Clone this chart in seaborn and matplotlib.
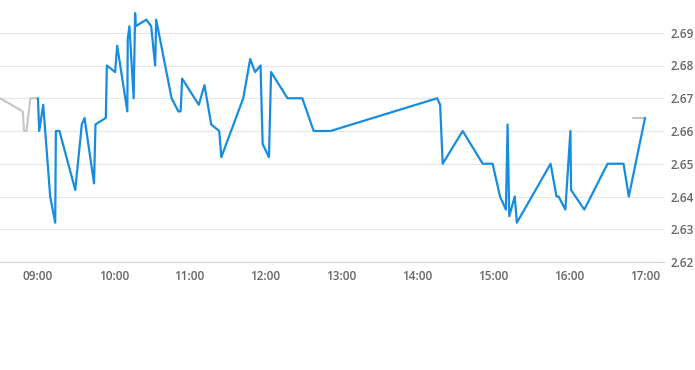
import matplotlib
matplotlib.use("Agg")
import matplotlib.pyplot as plt
import pandas as pd
import seaborn as sns

# ---- data ----
pre_times = ["08:30:00", "08:48:00", "08:49:00", "08:51:00", "08:54:00", "09:00:00"]
pre_values = [2.670, 2.666, 2.660, 2.660, 2.670, 2.670]

post_times = ["16:50:20", "17:00:00"]
post_values = [2.664, 2.664]

main_times = [
    "09:00:00", "09:01:00", "09:04:10", "09:09:40", "09:13:40", "09:14:10", "09:17:00",
    "09:29:30", "09:34:40", "09:36:50", "09:44:20", "09:45:30", "09:53:40", "09:54:30",
    "10:01:00", "10:02:40", "10:10:40", "10:11:00", "10:12:20", "10:15:40", "10:16:50",
    "10:17:20", "10:25:40", "10:29:30", "10:32:40", "10:33:30", "10:45:40", "10:51:00",
    "10:52:50", "10:54:00", "11:07:10", "11:11:40", "11:17:00", "11:23:20", "11:25:00",
    "11:42:20", "11:47:50", "11:51:40", "11:56:00", "11:57:40", "12:02:40", "12:04:20",
    "12:17:20", "12:29:00", "12:38:00", "12:51:20", "14:15:40", "14:18:00", "14:20:00",
    "14:35:50", "14:51:40", "14:59:30", "15:05:20", "15:10:00", "15:11:20", "15:12:40",
    "15:17:00", "15:18:40", "15:45:20", "15:50:00", "15:51:40", "15:57:00", "16:01:00",
    "16:01:30", "16:12:00", "16:30:20", "16:43:00", "16:47:10", "17:00:00",
]
main_values = [
    2.670, 2.660, 2.668, 2.640, 2.632, 2.660, 2.660,
    2.642, 2.662, 2.664, 2.644, 2.662, 2.664, 2.680,
    2.678, 2.686, 2.666, 2.688, 2.692, 2.670, 2.696,
    2.692, 2.694, 2.692, 2.680, 2.694, 2.670, 2.666,
    2.666, 2.676, 2.668, 2.674, 2.662, 2.660, 2.652,
    2.670, 2.682, 2.678, 2.680, 2.656, 2.652, 2.678,
    2.670, 2.670, 2.660, 2.660, 2.670, 2.668, 2.650,
    2.660, 2.650, 2.650, 2.640, 2.636, 2.662, 2.634,
    2.640, 2.632, 2.650, 2.640, 2.640, 2.636, 2.660,
    2.642, 2.636, 2.650, 2.650, 2.640, 2.664,
]

y_ticks = [2.62, 2.63, 2.64, 2.65, 2.66, 2.67, 2.68, 2.69]
x_tick_labels = ["09:00", "10:00", "11:00", "12:00", "13:00", "14:00", "15:00", "16:00", "17:00"]

DAY = "2024-01-02 "


def frame(times, values):
    return pd.DataFrame({"time": pd.to_datetime([DAY + t for t in times]), "value": values})


df_pre = frame(pre_times, pre_values)
df_post = frame(post_times, post_values)
df_main = frame(main_times, main_values)

# ---- style ----
sns.set_style("white")
plt.rcParams["font.family"] = ["Open Sans", "DejaVu Sans"]

fig = plt.figure(figsize=(6.95, 3.70), dpi=100)
ax = fig.add_axes([0.0, 1 - 262 / 370, 664 / 695, 262 / 370])

gray = "#c2c6cb"
blue = "#168ddf"

sns.lineplot(data=df_pre, x="time", y="value", ax=ax, color=gray, linewidth=1.5, estimator=None)
sns.lineplot(data=df_post, x="time", y="value", ax=ax, color=gray, linewidth=1.5, estimator=None)
sns.lineplot(data=df_main, x="time", y="value", ax=ax, color=blue, linewidth=1.6, estimator=None)

ax.set_xlim(pd.Timestamp(DAY + "08:30:00"), pd.Timestamp(DAY + "17:15:00"))
ax.set_ylim(2.62, 2.70)

ax.set_xticks([pd.Timestamp(DAY + t) for t in x_tick_labels])
ax.set_xticklabels(x_tick_labels)
ax.set_yticks(y_ticks)
ax.set_yticklabels([f"{v:.2f}" for v in y_ticks])

ax.yaxis.tick_right()
ax.grid(axis="y", color="#e6e6e6", linewidth=0.8)
ax.grid(axis="x", visible=False)
ax.set_axisbelow(True)

for s in ["top", "left", "right"]:
    ax.spines[s].set_visible(False)
ax.spines["bottom"].set_color("#ccd6eb")
ax.spines["bottom"].set_linewidth(0.8)

ax.tick_params(axis="x", direction="inout", length=5, width=0.7, color="#e4e8ef",
               labelsize=8.5, labelcolor="#666666", pad=3)
ax.tick_params(axis="y", length=0, labelsize=8.5, labelcolor="#666666", pad=5)
for lbl in ax.get_yticklabels() + ax.get_xticklabels():
    lbl.set_fontweight("semibold")
for lbl in ax.get_yticklabels():
    lbl.set_horizontalalignment("left")

ax.set_xlabel("")
ax.set_ylabel("")
if ax.get_legend() is not None:
    ax.get_legend().remove()

fig.savefig("out.png", dpi=100)
